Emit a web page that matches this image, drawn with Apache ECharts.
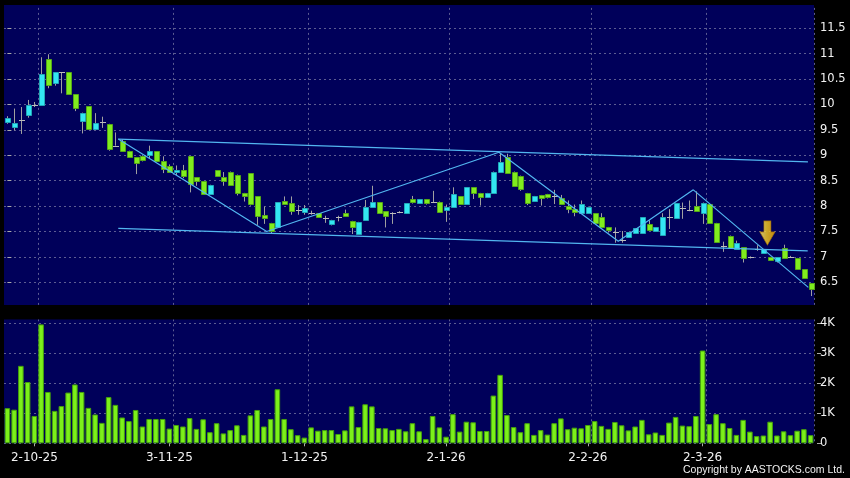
<!DOCTYPE html>
<html><head><meta charset="utf-8">
<script src="https://cdn.jsdelivr.net/npm/echarts@6/dist/echarts.min.js"></script>
<style>html,body{margin:0;padding:0;background:#000;}#c{width:850px;height:478px;}</style>
</head><body><div id="c"></div>
<script>
// Trading days per month (day numbers), month key "M-YY"
const tradingDays = [
  ['9-25',  [25,26,29,30]],
  ['10-25', [2,3,6,8,9,10,13,14,15,16,17,20,21,22,23,24,27,28,30,31]],
  ['11-25', [3,4,5,6,7,10,11,12,13,14,17,18,19,20,21,24,25,26,27,28]],
  ['12-25', [1,2,3,4,5,8,9,10,11,12,15,16,17,18,19,22,23,24,29,30,31]],
  ['1-26',  [2,5,6,7,8,9,12,13,14,15,16,19,20,21,22,23,26,27,28,29,30]],
  ['2-26',  [2,3,4,5,6,9,10,11,12,13,16,20,23,24,25,26,27]],
  ['3-26',  [2,3,4,5,6,9,10,11,12,13,16,17,18,19,20,23,24]]
];
const dates = [];
tradingDays.forEach(([m, days]) => days.forEach(d => dates.push(d + '-' + m)));

const tickLabels = ['2-10-25','3-11-25','1-12-25','2-1-26','2-2-26','2-3-26'];

const opens = [9.65,9.56,9.70,9.80,10.00,10.00,10.90,10.42,10.63,10.63,
  10.20,9.67,9.97,9.52,9.65,9.62,9.19,9.29,9.09,8.96,
  8.99,9.01,9.08,8.88,8.78,8.69,8.71,8.98,8.57,8.49,
  8.24,8.71,8.57,8.68,8.62,8.26,8.65,8.19,7.83,7.67,
  7.59,8.11,8.06,7.92,7.88,7.86,7.86,7.77,7.65,7.78,
  7.86,7.71,7.45,7.73,7.99,8.08,7.90,7.86,7.88,7.86,
  8.14,8.07,8.14,8.09,8.09,7.93,7.99,8.19,8.05,8.37,
  8.26,8.17,8.26,8.68,8.97,8.68,8.60,8.26,8.11,8.22,
  8.24,8.19,8.15,8.01,7.94,7.86,7.86,7.86,7.78,7.59,
  7.50,7.33,7.40,7.48,7.47,7.65,7.51,7.43,7.78,7.77,
  7.96,7.92,8.00,7.86,8.04,7.67,7.22,7.42,7.15,7.19,
  6.99,7.15,7.08,7.00,6.92,7.17,7.00,6.98,6.76,6.48];
const closes = [9.74,9.64,9.70,10.00,10.00,10.61,10.39,10.63,10.63,10.20,
  9.94,9.84,9.52,9.64,9.65,9.13,9.19,9.09,8.97,8.85,
  8.90,9.08,8.88,8.73,8.68,8.72,8.60,8.44,8.50,8.24,
  8.42,8.60,8.50,8.42,8.26,8.19,8.05,7.80,7.77,7.51,
  8.08,8.04,7.90,7.92,7.97,7.86,7.78,7.77,7.73,7.78,
  7.80,7.58,7.69,7.99,8.08,7.86,7.80,7.86,7.88,8.06,
  8.09,8.14,8.06,8.09,7.89,7.99,8.24,8.04,8.37,8.25,
  8.17,8.26,8.68,8.86,8.65,8.39,8.34,8.07,8.20,8.16,
  8.17,8.19,8.04,7.94,7.88,8.04,7.99,7.67,7.59,7.53,
  7.50,7.33,7.49,7.56,7.78,7.53,7.58,7.78,7.78,8.06,
  7.96,7.92,7.91,8.07,7.67,7.30,7.22,7.17,7.27,6.98,
  6.99,7.15,7.15,6.94,6.99,6.98,7.00,6.76,6.59,6.36];
const lows = [9.62,9.49,9.42,9.74,9.95,10.00,10.32,10.37,10.22,10.20,
  9.87,9.43,9.50,9.52,9.54,9.09,9.19,9.09,8.97,8.63,
  8.88,8.93,8.88,8.65,8.66,8.61,8.55,8.27,8.40,8.24,
  8.24,8.60,8.40,8.42,8.21,8.09,8.01,7.63,7.65,7.47,
  7.59,8.04,7.83,7.83,7.83,7.83,7.78,7.67,7.62,7.70,
  7.80,7.45,7.45,7.73,7.99,7.86,7.58,7.65,7.86,7.86,
  8.05,8.05,8.03,8.06,7.89,7.69,7.99,8.04,8.05,8.14,
  8.01,8.17,8.26,8.68,8.65,8.39,8.30,8.02,8.11,8.01,
  8.15,8.04,8.04,7.86,7.80,7.86,7.86,7.67,7.59,7.48,
  7.28,7.28,7.40,7.48,7.47,7.53,7.51,7.43,7.55,7.77,
  7.75,7.90,7.91,7.65,7.67,7.30,7.10,7.17,7.15,6.89,
  6.97,7.12,7.08,6.94,6.89,6.98,6.98,6.76,6.59,6.23];
const highs = [9.77,9.92,9.95,10.09,10.05,10.93,10.99,10.63,10.63,10.63,
  10.20,9.84,9.97,9.83,9.76,9.62,9.45,9.31,9.09,8.96,
  9.00,9.19,9.08,8.98,8.82,8.80,8.81,8.98,8.57,8.49,
  8.42,8.71,8.67,8.68,8.62,8.26,8.65,8.19,7.99,7.67,
  8.08,8.19,8.19,8.02,8.02,7.91,7.86,7.81,7.73,7.81,
  7.93,7.71,7.69,8.12,8.40,8.08,7.90,7.88,7.90,8.06,
  8.20,8.14,8.14,8.30,8.09,8.03,8.37,8.19,8.37,8.37,
  8.26,8.26,8.68,9.04,9.03,8.68,8.60,8.26,8.20,8.22,
  8.24,8.32,8.22,8.11,8.03,8.11,7.99,7.86,7.86,7.59,
  7.58,7.51,7.49,7.56,7.78,7.72,7.58,7.86,7.94,8.06,
  8.07,8.11,8.29,8.07,8.04,7.67,7.30,7.42,7.32,7.19,
  7.01,7.23,7.15,7.00,6.99,7.24,7.02,6.98,6.76,6.48];
const volumes = [1170,1120,2580,2040,910,3960,1710,1080,1240,1690,
  1960,1710,1180,960,680,1540,1280,860,740,1110,
  560,810,810,810,490,610,560,840,480,800,
  370,670,330,440,600,280,930,1110,560,810,
  1800,810,470,270,190,530,420,440,440,310,
  430,1230,540,1300,1230,510,500,440,480,400,
  670,400,140,910,530,220,970,390,720,700,
  410,410,1590,2280,940,540,370,670,280,440,
  290,670,830,470,520,500,610,740,580,480,
  710,600,430,560,780,300,360,280,690,880,
  590,570,910,3090,640,970,670,510,280,780,
  390,240,260,720,260,400,270,420,470,270];

// Drawn trend lines: [category position, price]
const trendUpper = [[16.43, 9.32], [118.6, 8.87]];
const trendLower = [[16.43, 7.56], [118.57, 7.12]];
const trendZigzag = [[16.43, 9.32], [38.42, 7.50], [72.83, 9.06], [90.51, 7.31], [101.62, 8.32], [118.66, 6.40]];
const arrowMark = [112.6, 7.47];

const CYAN = '#33e6f2', CYAN_B = '#22a8b8', GREEN = '#80ec1e', GREEN_B = '#55a818';
const GRID_C = '#5c5c92';
const candleData = dates.map((d, k) => [k, opens[k], closes[k], lows[k], highs[k]]);

function renderCandle(params, api) {
  const i = api.value(0), o = api.value(1), c = api.value(2), l = api.value(3), h = api.value(4);
  const po = api.coord([i, o]), pc = api.coord([i, c]), pl = api.coord([i, l]), ph = api.coord([i, h]);
  const band = api.size([1, 0])[0];
  const w = Math.max(3, Math.round(band * 0.78));
  const x = Math.round(po[0]);
  const children = [{
    type: 'line',
    shape: { x1: x + 0.5, y1: ph[1], x2: x + 0.5, y2: pl[1] },
    style: { stroke: '#a0a0a0', lineWidth: 1 }
  }];
  const left = x - Math.floor(w / 2);
  if (Math.abs(o - c) < 1e-9) {
    const y = Math.round(po[1]) + 0.5;
    children.push({ type: 'line', shape: { x1: left, y1: y, x2: left + w + 1, y2: y },
      style: { stroke: '#bcbcbc', lineWidth: 1 } });
  } else {
    const top = Math.round(Math.min(po[1], pc[1])), bot = Math.round(Math.max(po[1], pc[1]));
    const up = c > o;
    children.push({ type: 'rect',
      shape: { x: left + 0.5, y: top + 0.5, width: w, height: Math.max(bot - top, 2) },
      style: { fill: up ? CYAN : GREEN, stroke: up ? CYAN_B : GREEN_B, lineWidth: 1 } });
  }
  return { type: 'group', children };
}

const isTick = (i, v) => tickLabels.indexOf(v) >= 0;
const isSplit = (i) => i > 0 && tickLabels.indexOf(dates[i - 1]) >= 0;
const labelFont = { color: '#f2f2f2', fontFamily: 'DejaVu Sans', fontSize: 11.5 };

const chart = echarts.init(document.getElementById('c'), null, { renderer: 'canvas' });
chart.setOption({
  backgroundColor: '#000000',
  animation: false,
  grid: [
    { left: 4, top: 2.9, width: 810, height: 304.8, backgroundColor: '#00005a', show: true, borderWidth: 0 },
    { left: 4, top: 319.3, width: 810, height: 124, backgroundColor: '#00005a', show: true, borderWidth: 0 }
  ],
  xAxis: [
    { type: 'category', gridIndex: 0, data: dates, boundaryGap: true,
      axisLine: { show: false }, axisTick: { show: false }, axisLabel: { show: false },
      splitLine: { show: true, interval: isSplit, lineStyle: { color: GRID_C, type: [2, 3], width: 1 } } },
    { type: 'category', gridIndex: 1, data: dates, boundaryGap: true, offset: 3,
      axisLine: { show: false },
      axisTick: { show: true, alignWithLabel: true, interval: isTick, length: 3, lineStyle: { color: '#aaaaaa' } },
      axisLabel: { show: true, interval: isTick, margin: 6, color: '#f2f2f2', fontFamily: 'DejaVu Sans', fontSize: 12 },
      splitLine: { show: true, interval: isSplit, lineStyle: { color: GRID_C, type: [2, 3], width: 1 } } },
    { type: 'value', gridIndex: 0, min: -0.5, max: dates.length - 0.5, show: false }
  ],
  yAxis: [
    { type: 'value', gridIndex: 0, position: 'right', min: 6, max: 12, interval: 0.5, offset: 3,
      axisLine: { show: false },
      axisTick: { show: true, length: 4, lineStyle: { color: '#aaaaaa' } },
      axisLabel: Object.assign({ margin: 3, showMinLabel: false, showMaxLabel: false }, labelFont),
      splitLine: { show: true, lineStyle: { color: GRID_C, type: [2, 3], width: 1 } } },
    { type: 'value', gridIndex: 1, position: 'right', min: 0, max: 4130, interval: 1000, offset: 3,
      axisLine: { show: false },
      axisTick: { show: true, length: 4, lineStyle: { color: '#aaaaaa' } },
      axisLabel: Object.assign({ margin: 3, showMaxLabel: false,
        formatter: v => v === 0 ? '0' : (v / 1000) + 'K' }, labelFont),
      splitLine: { show: true, showMaxLine: false, lineStyle: { color: GRID_C, type: [2, 3], width: 1 } } }
  ],
  series: [
    { type: 'custom', name: 'price', xAxisIndex: 0, yAxisIndex: 0, data: candleData,
      renderItem: renderCandle, encode: { x: 0, y: [1, 2, 3, 4] }, z: 2, silent: true },
    { type: 'bar', name: 'volume', xAxisIndex: 1, yAxisIndex: 1, data: volumes, barWidth: '82%',
      itemStyle: { color: '#7cf01a', borderColor: '#45a00c', borderWidth: 1 }, silent: true },
    { type: 'line', xAxisIndex: 2, yAxisIndex: 0, data: trendUpper, symbol: 'none', silent: true, z: 4,
      lineStyle: { color: '#52b6f0', width: 1.2 } },
    { type: 'line', xAxisIndex: 2, yAxisIndex: 0, data: trendLower, symbol: 'none', silent: true, z: 4,
      lineStyle: { color: '#52b6f0', width: 1.2 } },
    { type: 'line', xAxisIndex: 2, yAxisIndex: 0, data: trendZigzag, symbol: 'none', silent: true, z: 4,
      lineStyle: { color: '#52b6f0', width: 1.2 } },
    { type: 'scatter', xAxisIndex: 2, yAxisIndex: 0, data: [arrowMark], silent: true, z: 5,
      symbol: 'path://M4,0 L11,0 L11,11 L15,11 L7.5,24 L0,11 L4,11 Z', symbolSize: [15, 24],
      itemStyle: { color: new echarts.graphic.LinearGradient(0, 0, 1, 0, [
        { offset: 0, color: '#fff08a' }, { offset: 0.45, color: '#ffd21c' }, { offset: 1, color: '#f0a800' }]),
        borderColor: '#b07800', borderWidth: 0.8 } }
  ],
  graphic: [
    { type: 'rect', shape: { x: 0, y: 0, width: 815, height: 5 }, style: { fill: '#000' }, z: 100, silent: true },
    { type: 'rect', shape: { x: 0, y: 305, width: 815, height: 14.3 }, style: { fill: '#000' }, z: 100, silent: true },
    { type: 'text', right: 5, top: 465, z: 100, silent: true,
      style: { text: 'Copyright by AASTOCKS.com Ltd.', fill: '#f2f2f2', font: '10.5px "Liberation Sans"' } }
  ]
});
</script>
</body></html>
